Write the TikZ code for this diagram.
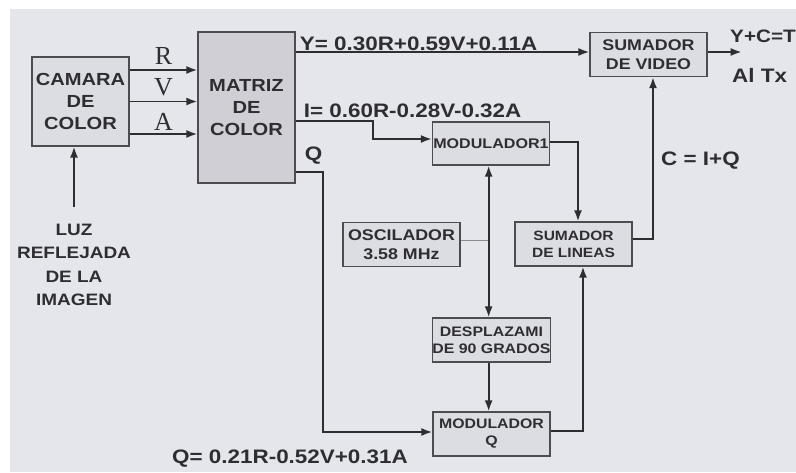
\documentclass[tikz,border=0pt]{standalone}
\usepackage{fontspec}
\usepackage{tikz}
\usetikzlibrary{arrows.meta,positioning}
\newfontfamily\diafont[FakeStretch=1.15]{Liberation Sans}
\newfontfamily\rvafont{Liberation Serif}
\definecolor{paper}{RGB}{229,230,236}
\definecolor{inkgrey}{RGB}{46,46,50}
\definecolor{boxfill}{RGB}{220,221,227}
\definecolor{matfill}{RGB}{207,207,213}
\newcommand{\fsz}[2]{\fontsize{#1}{#2}\selectfont}

\begin{document}
\begin{tikzpicture}[x=1pt,y=-1pt, every node/.style={text=inkgrey},
  blk/.style={draw=inkgrey!85,line width=1.3pt,fill=boxfill,inner sep=0pt,align=center,
              minimum width=117pt,minimum height=44pt,font=\diafont\bfseries\fsz{14}{17.5}},
  big/.style={blk,minimum width=97pt,font=\diafont\bfseries\fsz{17.5}{22}},
  lbl/.style={inner sep=0pt,font=\diafont\bfseries\fsz{19.5}{23.5}},
  rva/.style={inner sep=0pt,font=\rvafont\fsz{26}{26}},
  ar/.style={-{Latex[length=11pt,width=8pt]},inkgrey,line width=1.8pt},
  feed/.style={inkgrey!55,line width=1pt}]

% paper, with the white scan edge on top and left
\fill[white] (0,0) rectangle (796,472);
\fill[paper] (10,9) rectangle (796,472);
\useasboundingbox (0,0) rectangle (796,472);

\node[big,minimum height=89pt] (cam) at (80.5,101.5) {CAMARA\\DE\\COLOR};
\node[big,minimum height=151pt,fill=matfill] (mat) at (246.5,107.5) {MATRIZ\\DE\\COLOR};
\node[blk,font=\diafont\bfseries\fsz{15.5}{19}] (sumv) at (648.5,54.5) {SUMADOR\\DE VIDEO};
\node[blk,minimum height=43pt] (mod1) at (491,143.5) {MODULADOR1};
\node[blk,font=\diafont\bfseries\fsz{15.5}{19}] (osc) at (401.5,244.5) {OSCILADOR\\3.58 MHz};
\node[blk,font=\diafont\bfseries\fsz{13.5}{17}] (suml) at (573.5,244) {SUMADOR\\DE LINEAS};
\node[blk,font=\diafont\bfseries\fsz{13.8}{17}] (desp) at (491.5,340) {DESPLAZAMI\\DE 90 GRADOS};
\node[blk,font=\diafont\bfseries\fsz{13.8}{17}] (modq) at (491.5,434) {MODULADOR\\Q};

\node[lbl,font=\diafont\bfseries\fsz{16.5}{23.5},align=center] (luz) at (74,265)
  {LUZ\\REFLEJADA\\DE LA\\IMAGEN};

% outputs of the matrix, and the free end towards the transmitter
\coordinate (yout) at ([yshift=55.5pt]mat.east);
\coordinate (iout) at ([yshift=-13.5pt]mat.east);
\coordinate (qout) at ([yshift=-64.5pt]mat.east);
\coordinate (tx)   at ([xshift=34pt,yshift=2.5pt]sumv.east);
\coordinate (vj)   at ([xshift=28pt,yshift=4.5pt]osc.east);

\draw[ar] ([yshift=31.5pt]cam.east) -- node[rva,above=5pt] (rlab) {R} ([yshift=31.5pt]cam.east -| mat.west);
\draw[ar] (cam.east) -- node[rva,above=5pt] (vlab) {V} (cam.east -| mat.west);
\draw[ar] ([yshift=-32.5pt]cam.east) -- node[rva,above=3pt] (alab) {A} ([yshift=-32.5pt]cam.east -| mat.west);
\draw[ar] ([yshift=17pt]luz.north) -- (luz.north |- cam.south);

\draw[ar] (yout) -- (yout -| sumv.west);
\draw[ar] (iout) -- ++(77,0) |- ([yshift=4.5pt]mod1.west);
\draw[ar] (qout) -- ++(27,0) |- ([yshift=2pt]modq.west);
\draw[ar] ([yshift=2.5pt]sumv.east) -- (tx);

\draw[feed] ([yshift=4.5pt]osc.east) -- (vj);
\draw[ar] (vj) -- (vj |- mod1.south);
\draw[ar] (vj) -- (vj |- desp.north);
\draw[ar] (desp.south -| vj) -- (modq.north -| vj);

\draw[ar] ([yshift=1.5pt]mod1.east) -| ([xshift=4.5pt]suml.north);
\draw[ar] ([yshift=3pt]modq.east) -| ([xshift=9.5pt]suml.south);
\draw[ar] ([yshift=5pt]suml.east) -| ([xshift=4.5pt]sumv.south);

\node[lbl,anchor=base west] (ylab) at ([xshift=4pt,yshift=2pt]yout) {Y= 0.30R+0.59V+0.11A};
\node[lbl,anchor=base west] (ilab) at ([xshift=8pt,yshift=4pt]iout) {I= 0.60R-0.28V-0.32A};
\node[lbl,anchor=base west] (qlab) at ([xshift=9pt,yshift=12pt]qout) {Q};
\node[lbl,anchor=base west] (qeq) at (172,463) {Q= 0.21R-0.52V+0.31A};
\node[lbl,anchor=base west] (clab) at (661,165) {C = I+Q};
\node[lbl,anchor=base west,font=\diafont\bfseries\fsz{18}{22}] (ysum) at (730,42) {Y+C=T};
\node[lbl,anchor=base west] (altx) at (732,82) {Al Tx};
\end{tikzpicture}
\end{document}
